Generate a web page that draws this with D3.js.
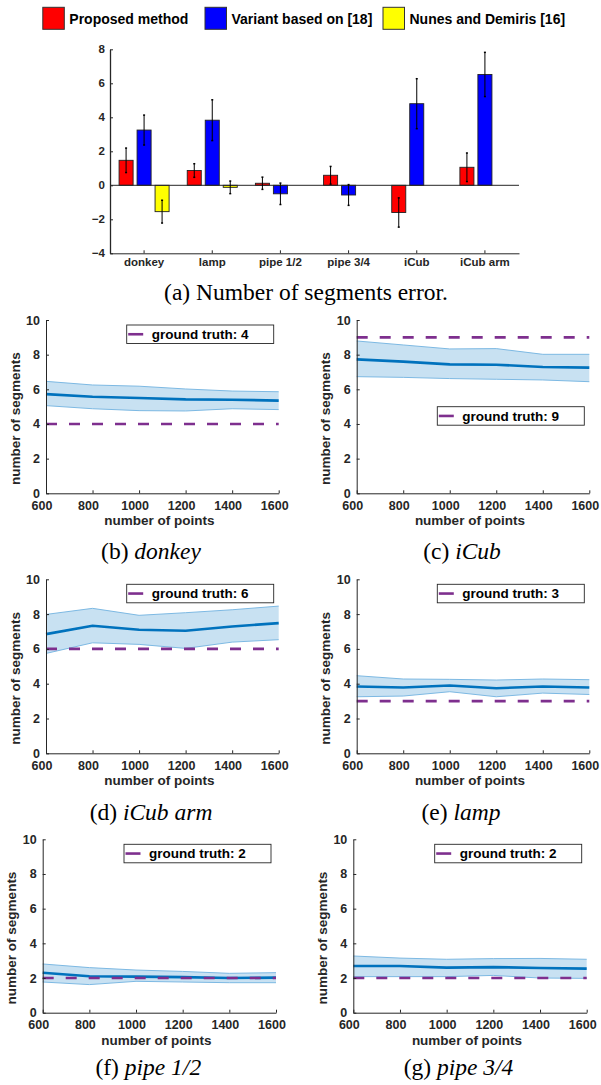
<!DOCTYPE html>
<meta charset="utf-8">
<style>

body {
	margin: 0;
	background: #fff;
}

svg {
	font-family: "Liberation Sans", Arial, Helvetica, sans-serif;
	font-weight: bold;
}

.axis path,
.axis line {
	stroke: #262626;
}

.axis text {
	fill: #262626;
	font-family: "Liberation Sans", Arial, sans-serif;
	font-weight: bold;
}

.caption {
	font-family: "Liberation Serif", "Times New Roman", serif;
	font-weight: normal;
	font-size: 23.5px;
	fill: #000;
}

</style>
<svg width="601" height="1085"></svg>
<script src="https://d3js.org/d3.v7.min.js"></script>
<script>

	// (a) number of segments error
	var objects = ["donkey", "lamp", "pipe 1/2", "pipe 3/4", "iCub", "iCub arm"];
	var methods = ["Proposed method", "Variant based on [18]", "Nunes and Demiris [16]"];
	var proposedErr = [1.47, 0.87, 0.12, 0.59, -1.6, 1.06];
	var proposedStd = [0.72, 0.4, 0.36, 0.52, 0.86, 0.84];
	var variantErr  = [3.25, 3.83, -0.5, -0.57, 4.8, 6.52];
	var variantStd  = [0.88, 1.2, 0.63, 0.61, 1.47, 1.3];
	var nunesErr    = [-1.55, -0.12, 0, 0, null, null];
	var nunesStd    = [0.67, 0.37, 0, 0, null, null];
	var errTicks = [-4, -2, 0, 2, 4, 6, 8];

	// (b)-(g) number of segments vs number of points
	var points = [600, 800, 1000, 1200, 1400, 1600];
	var segTicks = [0, 2, 4, 6, 8, 10];

	var donkeyMean = [5.72, 5.57, 5.5, 5.42, 5.4, 5.35];
	var donkeyHigh = [6.46, 6.25, 6.18, 6.02, 5.9, 5.86];
	var donkeyLow  = [5.06, 4.88, 4.77, 4.75, 4.88, 4.83];

	var icubMean = [7.73, 7.6, 7.44, 7.42, 7.29, 7.25];
	var icubHigh = [8.79, 8.56, 8.33, 8.35, 8.02, 8.02];
	var icubLow  = [6.73, 6.69, 6.62, 6.58, 6.54, 6.44];

	var armMean = [6.85, 7.33, 7.1, 7.04, 7.29, 7.48];
	var armHigh = [7.98, 8.33, 7.93, 8.08, 8.25, 8.46];
	var armLow  = [5.74, 6.35, 6.26, 6.03, 6.39, 6.53];

	var lampMean = [3.84, 3.78, 3.9, 3.74, 3.84, 3.78];
	var lampHigh = [4.46, 4.27, 4.25, 4.21, 4.27, 4.23];
	var lampLow  = [3.25, 3.29, 3.54, 3.25, 3.46, 3.38];

	var pipe12Mean = [2.3, 2.1, 2.08, 2.05, 2.0, 2.02];
	var pipe12High = [2.81, 2.6, 2.46, 2.38, 2.27, 2.31];
	var pipe12Low  = [1.77, 1.62, 1.81, 1.77, 1.73, 1.73];

	var pipe34Mean = [2.69, 2.69, 2.6, 2.63, 2.58, 2.54];
	var pipe34High = [3.27, 3.15, 3.08, 3.12, 3.13, 3.08];
	var pipe34Low  = [2.08, 2.08, 2.08, 2.15, 2.0, 1.98];

	var panelTags   = ["(b)", "(c)", "(d)", "(e)", "(f)", "(g)"];
	var panelNames  = ["donkey", "iCub", "iCub arm", "lamp", "pipe 1/2", "pipe 3/4"];
	var groundTruth = [4, 9, 6, 3, 2, 2];
	var panelMean = [donkeyMean, icubMean, armMean, lampMean, pipe12Mean, pipe34Mean];
	var panelHigh = [donkeyHigh, icubHigh, armHigh, lampHigh, pipe12High, pipe34High];
	var panelLow  = [donkeyLow, icubLow, armLow, lampLow, pipe12Low, pipe34Low];

	// where each small plot sits on the page
	var layout = [
		{x0: 46,    x1: 278.7, y0: 320,   y1: 493.3,  capX: 151,   capY: 559,  legTop: 5},
		{x0: 356.7, x1: 589.3, y0: 320,   y1: 493.3,  capX: 462,   capY: 559,  legTop: 86.7},
		{x0: 46,    x1: 278.7, y0: 579.3, y1: 753.3,  capX: 151,   capY: 820,  legTop: 5},
		{x0: 356.7, x1: 589.3, y0: 579.3, y1: 753.3,  capX: 461,   capY: 820,  legTop: 5},
		{x0: 42.7,  x1: 276,   y0: 839.3, y1: 1012.7, capX: 148.3, capY: 1075, legTop: 5},
		{x0: 353.3, x1: 586.7, y0: 839.3, y1: 1012.7, capX: 458.5, capY: 1075, legTop: 5}
	];

	var svg = d3.select("svg");

	// ---------- (a) bar chart ----------
	var bx = d3.scaleBand().domain(objects).range([110, 519]);
	var bm = d3.scaleBand().domain(methods)
		.range([-0.396 * bx.bandwidth(), 0.396 * bx.bandwidth()])
		.paddingInner(0.22).paddingOuter(0.11);
	var by = d3.scaleLinear().domain([-4, 8]).range([253.3, 49.3]);
	var barColor = d3.scaleOrdinal().domain(methods).range(["#ff0000", "#0000ff", "#ffff00"]);

	var errVals = [proposedErr, variantErr, nunesErr],
		errStds = [proposedStd, variantStd, nunesStd];
	var barRows = [];
	errVals.forEach(function(vals, j) {
		vals.forEach(function(v, i) {
			if (v !== null) barRows.push({obj: objects[i], method: methods[j], value: v, sd: errStds[j][i]});
		});
	});

	var ga = svg.append("g");

	ga.append("g")
		.attr("class", "axis")
		.attr("transform", "translate(110,0)")
		.call(d3.axisLeft(by).tickValues(errTicks).tickSizeInner(-3).tickSizeOuter(0).tickPadding(5))
		.call(function(g) { g.selectAll("text").style("font-size", "11.5px"); })
		.call(function(g) { g.select(".domain").attr("stroke", "#666").attr("stroke-width", 1.3); });

	ga.append("g")
		.attr("class", "axis")
		.attr("transform", "translate(0," + by(-4) + ")")
		.call(d3.axisBottom(bx).tickSizeInner(-3).tickSizeOuter(0).tickPadding(4.5))
		.call(function(g) { g.selectAll("text").style("font-size", "11.5px"); });

	var bars = ga.append("g");
	bars.selectAll("rect")
	  .data(barRows)
	  .enter().append("rect")
		.attr("x", function(d) { return bx(d.obj) + bx.bandwidth() / 2 + bm(d.method); })
		.attr("width", bm.bandwidth())
		.attr("y", function(d) { return by(Math.max(d.value, 0)); })
		.attr("height", function(d) { return Math.abs(by(d.value) - by(0)); })
		.attr("fill", function(d) { return barColor(d.method); })
		.attr("stroke", "#222")
		.attr("stroke-width", 0.9);

	// bar baseline
	ga.append("line")
		.attr("x1", 110).attr("x2", 519)
		.attr("y1", by(0)).attr("y2", by(0))
		.attr("stroke", "#262626");

	var eb = ga.append("g").selectAll("g")
	  .data(barRows.filter(function(d) { return d.sd > 0; }))
	  .enter().append("g")
		.attr("transform", function(d) {
			return "translate(" + (bx(d.obj) + bx.bandwidth() / 2 + bm(d.method) + bm.bandwidth() / 2) + ",0)";
		});
	eb.append("line")
		.attr("y1", function(d) { return by(d.value - d.sd); })
		.attr("y2", function(d) { return by(d.value + d.sd); })
		.attr("stroke", "#000");
	eb.append("line")
		.attr("x1", -1).attr("x2", 1)
		.attr("y1", function(d) { return by(d.value + d.sd); })
		.attr("y2", function(d) { return by(d.value + d.sd); })
		.attr("stroke", "#000").attr("stroke-width", 1.5);
	eb.append("line")
		.attr("x1", -1).attr("x2", 1)
		.attr("y1", function(d) { return by(d.value - d.sd); })
		.attr("y2", function(d) { return by(d.value - d.sd); })
		.attr("stroke", "#000").attr("stroke-width", 1.5);

	// legend on top
	var legX = [42.8, 205, 383];
	var leg = ga.append("g").selectAll("g")
	  .data(methods)
	  .enter().append("g")
		.attr("transform", function(d, i) { return "translate(" + legX[i] + ",7.3)"; });
	leg.append("rect")
		.attr("width", 21.5).attr("height", 22)
		.attr("fill", function(d) { return barColor(d); })
		.attr("stroke", "#333");
	leg.append("text")
		.attr("x", 26.5).attr("y", 16.7)
		.style("font-size", "14px")
		.text(function(d) { return d; });

	svg.append("text")
		.attr("class", "caption")
		.attr("x", 306).attr("y", 300)
		.attr("text-anchor", "middle")
		.text("(a) Number of segments error.");

	// ---------- (b)-(g) small plots ----------
	layout.forEach(function(L, k) {
		var x = d3.scaleLinear().domain([600, 1600]).range([L.x0, L.x1]);
		var y = d3.scaleLinear().domain([0, 10]).range([L.y1, L.y0]);
		var rows = points.map(function(p, i) {
			return {x: p, mean: panelMean[k][i], high: panelHigh[k][i], low: panelLow[k][i]};
		});
		var g = svg.append("g");

		g.append("path")
			.datum(rows)
			.attr("fill", "#c8e1f2")
			.attr("d", d3.area().x(function(d) { return x(d.x); })
				.y0(function(d) { return y(d.low); })
				.y1(function(d) { return y(d.high); }));

		["high", "low"].forEach(function(key) {
			g.append("path")
				.datum(rows)
				.attr("fill", "none")
				.attr("stroke", "#7db9e3")
				.attr("stroke-width", 1)
				.attr("d", d3.line().x(function(d) { return x(d.x); }).y(function(d) { return y(d[key]); }));
		});

		g.append("path")
			.datum(rows)
			.attr("fill", "none")
			.attr("stroke", "#0072bd")
			.attr("stroke-width", 2.6)
			.attr("d", d3.line().x(function(d) { return x(d.x); }).y(function(d) { return y(d.mean); }));

		g.append("line")
			.attr("x1", x(600)).attr("x2", x(1600))
			.attr("y1", y(groundTruth[k])).attr("y2", y(groundTruth[k]))
			.attr("stroke", "#7e2f8e")
			.attr("stroke-width", 2.6)
			.attr("stroke-dasharray", "11,12");

		g.append("g")
			.attr("class", "axis")
			.attr("transform", "translate(" + L.x0 + ",0)")
			.call(d3.axisLeft(y).tickValues(segTicks).tickSizeInner(-3).tickSizeOuter(0).tickPadding(6))
			.call(function(a) { a.selectAll("text").style("font-size", "12.5px"); });

		// labels sit a little left of their ticks, as in the figure
		g.append("g")
			.attr("class", "axis")
			.attr("transform", "translate(0," + L.y1 + ")")
			.call(d3.axisBottom(x).tickValues(points).tickFormat(d3.format("d")).tickSizeInner(-3).tickSizeOuter(0).tickPadding(7.8))
			.call(function(a) { a.selectAll("text").style("font-size", "12.5px").attr("dx", -4.5); });

		g.append("text")
			.attr("x", (L.x0 + L.x1) / 2 - 3).attr("y", L.y1 + 32)
			.attr("text-anchor", "middle")
			.attr("fill", "#262626")
			.style("font-size", "13.5px")
			.text("number of points");

		g.append("text")
			.attr("transform", "translate(" + (L.x0 - 26.5) + "," + ((L.y0 + L.y1) / 2 + 12) + ") rotate(-90)")
			.attr("text-anchor", "middle")
			.attr("fill", "#262626")
			.style("font-size", "13.5px")
			.text("number of segments");

		var lw = 147, lh = 18.5, lx = L.x1 - 5 - lw, ly = L.y0 + L.legTop;
		g.append("rect")
			.attr("x", lx).attr("y", ly)
			.attr("width", lw).attr("height", lh)
			.attr("fill", "#fff")
			.attr("stroke", "#262626")
			.attr("stroke-width", 0.9);
		g.append("line")
			.attr("x1", lx + 1.5).attr("x2", lx + 16.5)
			.attr("y1", ly + lh / 2).attr("y2", ly + lh / 2)
			.attr("stroke", "#7e2f8e")
			.attr("stroke-width", 2.6);
		g.append("text")
			.attr("x", lx + 25).attr("y", ly + lh / 2)
			.attr("dy", "0.36em")
			.style("font-size", "13.5px")
			.text("ground truth: " + groundTruth[k]);

		var cap = svg.append("text")
			.attr("class", "caption")
			.attr("x", L.capX).attr("y", L.capY)
			.attr("text-anchor", "middle");
		cap.append("tspan").text(panelTags[k] + " ");
		cap.append("tspan").style("font-style", "italic").text(panelNames[k]);
	});

</script>
